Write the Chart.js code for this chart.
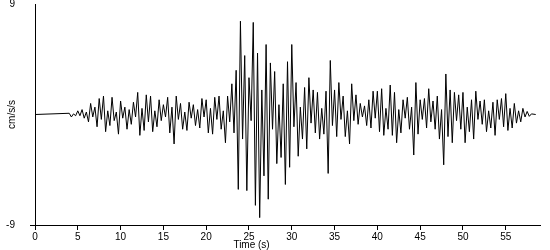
<!DOCTYPE html>
<html>
<head>
<meta charset="utf-8">
<script src="https://cdn.jsdelivr.net/npm/chart.js@4.4.1/dist/chart.umd.min.js"></script>
<style>
  html, body { margin: 0; padding: 0; background: #fff; }
</style>
</head>
<body>
<canvas id="chart" width="550" height="250"></canvas>
<script>
// acceleration trace, one reading every 0.25 s starting at 4 s (quiet before that)
const startTime = 4;
const sampleStep = 0.25;
const accel = [
  0.1, -0.2, 0.05, -0.1,      // 4 s
  0.3, -0.1, 0.4, -0.3,
  0.2, -0.6, 0.9, -0.2,
  0.6, -1.0, 1.3, -0.4,
  1.5, -1.4, 0.3, -0.9,       // 8 s
  1.4, -0.5, 0.2, -1.6,
  1.1, -0.3, 0.6, -1.2,
  0.4, -0.8, 1.0, -0.2,
  1.8, -1.7, 0.5, -1.3,       // 12 s
  1.6, -0.6, 1.5, -1.4,
  0.3, -1.0, 1.2, -0.5,
  0.8, -0.2, 1.4, -1.5,
  0.6, -2.4, 1.5, -0.4,       // 16 s
  0.9, -1.2, 0.2, -1.3,
  1.0, -0.3, 0.8, -0.9,
  0.4, -1.1, 1.3, -0.2,
  1.2, -1.5, 0.5, -1.6,       // 20 s
  1.4, -0.4, 1.5, -1.2,
  0.3, -2.3, 1.5, -0.6,
  2.5, -1.5, 3.6, -6.1,
  7.6, -2.0, 4.8, -6.2,       // 24 s
  3.0, -0.5, 7.5, -7.4,
  5.0, -8.4, 2.0, -5.0,
  5.7, -6.9, 4.2, -1.2,
  3.5, -4.0, 0.8, -3.5,       // 28 s
  2.5, -5.7, 4.3, -4.3,
  5.7, -1.0, 2.6, -3.4,
  0.6, -2.0, 2.2, -2.8,
  3.0, -0.7, 2.0, -1.5,       // 32 s
  1.8, -2.0, 0.5, -1.6,
  1.9, -4.8, 4.4, -0.9,
  2.0, -1.8, 2.6, -0.4,
  1.5, -1.8, 0.3, -2.4,       // 36 s
  2.5, -0.5, 1.6, -0.8,
  0.9, -0.2, 0.7, -0.9,
  1.2, -1.1, 1.9, -0.3,
  1.9, -1.4, 2.1, -1.7,       // 40 s
  0.5, -1.2, 2.4, -1.7,
  1.8, -2.3, 0.4, -1.5,
  1.2, -0.3, 1.4, -1.2,
  0.6, -3.3, 2.6, -1.6,       // 44 s
  1.2, -0.4, 1.3, -1.1,
  2.1, -0.6, 1.1, -1.2,
  1.5, -2.0, 0.4, -4.1,
  3.3, -1.8, 2.0, -2.3,       // 48 s
  1.8, -0.5, 1.6, -1.2,
  1.8, -2.3, 0.6, -1.4,
  1.2, -2.0, 1.9, -0.4,
  1.1, -0.8, 1.2, -1.4,       // 52 s
  0.3, -1.1, 1.0, -1.7,
  1.2, -0.4, 1.3, -1.0,
  1.7, -1.3, 0.5, -1.1,
  0.9, -0.7, 0.3, -0.6,       // 56 s
  0.5, -0.2, 0.25, -0.15,
  0.05
];
const recordStart = 0;
const recordEnd = 58.5;

const xTickValues = [0, 5, 10, 15, 20, 25, 30, 35, 40, 45, 50, 55];
const yTickValues = [-9, 9];

const points = [{ x: recordStart, y: 0 }];
accel.forEach((v, i) => points.push({ x: startTime + i * sampleStep, y: v }));
points.push({ x: recordEnd, y: 0 });

const FONT = { family: '"Liberation Sans", Arial, sans-serif', size: 10 };

// x axis title sits left of centre in the original
const timeLabel = {
  id: 'timeLabel',
  afterDraw(chart) {
    const { ctx, scales: { x } } = chart;
    ctx.save();
    ctx.font = '10px "Liberation Sans", Arial, sans-serif';
    ctx.fillStyle = '#000';
    ctx.textAlign = 'center';
    ctx.textBaseline = 'middle';
    ctx.fillText('Time (s)', x.getPixelForValue(25.3), 245);
    ctx.restore();
  }
};

new Chart(document.getElementById('chart'), {
  type: 'line',
  data: {
    datasets: [{
      data: points,
      borderColor: '#000',
      borderWidth: 1,
      pointRadius: 0,
      tension: 0,
      fill: false
    }]
  },
  options: {
    responsive: false,
    animation: false,
    devicePixelRatio: 1,
    layout: { padding: { top: 4, right: 10, left: 0, bottom: 0 } },
    plugins: { legend: { display: false }, tooltip: { enabled: false } },
    scales: {
      x: {
        type: 'linear',
        min: 0,
        max: 59,
        afterBuildTicks: s => { s.ticks = xTickValues.map(v => ({ value: v })); },
        afterFit: s => { s.height = 25; s.paddingLeft = 0; s.paddingRight = 0; },
        ticks: { color: '#000', font: FONT, padding: 1, maxRotation: 0, autoSkip: false },
        grid: { drawOnChartArea: false, drawTicks: true, tickLength: 5, color: '#000' },
        border: { display: true, color: '#000', width: 1 }
      },
      y: {
        min: -9,
        max: 9,
        afterBuildTicks: s => { s.ticks = yTickValues.map(v => ({ value: v })); },
        afterFit: s => { s.width = 35; s.paddingTop = 0; s.paddingBottom = 0; },
        ticks: { color: '#000', font: FONT, padding: 15 },
        grid: {
          drawOnChartArea: false,
          drawTicks: true,
          tickLength: 5,
          color: c => (c.tick && c.tick.value > 0 ? 'rgba(0,0,0,0)' : '#000')
        },
        border: { display: true, color: '#000', width: 1 },
        title: { display: true, text: 'cm/s/s', color: '#000', font: FONT, padding: { top: 6, bottom: 0 } }
      }
    }
  },
  plugins: [timeLabel]
});
</script>
</body>
</html>
